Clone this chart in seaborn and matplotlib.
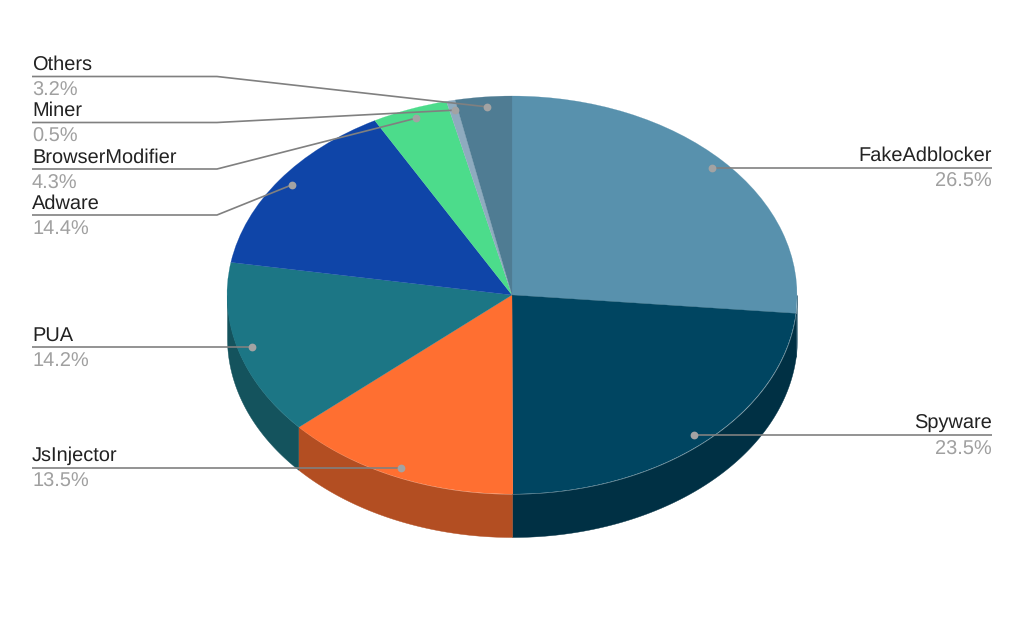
import numpy as np
import matplotlib
matplotlib.use("Agg")
import matplotlib.pyplot as plt
import matplotlib.colors as mc
import seaborn as sns

categories = ["FakeAdblocker", "Spyware", "JsInjector", "PUA", "Adware",
              "BrowserModifier", "Miner", "Others"]
shares = [26.5, 23.5, 13.5, 14.2, 14.4, 4.3, 0.5, 3.2]
colors = ["#5891AD", "#004561", "#FF6F31", "#1C7685", "#0F45A8",
          "#4CDC8B", "#8FABBF", "#4F7C93"]

W, H = 1024, 633
CX, CY, RX, RY, DEPTH = 512.0, 295.0, 285.0, 199.0, 43.0

sns.set_theme(style="white")
plt.rcParams["font.family"] = ["Liberation Sans", "DejaVu Sans"]
plt.rcParams["text.hinting"] = "no_hinting"
plt.rcParams["text.hinting_factor"] = 1
palette = sns.color_palette(colors)

def px(x, y):
    return (x - CX) / RX, (CY - y) / RY

fig = plt.figure(figsize=(W / 100, H / 100), dpi=100, facecolor="white")
ax = fig.add_axes([0, 0, 1, 1])

wedges, _ = ax.pie(shares, colors=palette, startangle=90, counterclock=False, radius=1,
                   wedgeprops=dict(zorder=3))
for w, col in zip(wedges, palette):
    w.set_edgecolor(col)
    w.set_linewidth(0.15)
ax.set_aspect("auto")
ax.set_xlim(px(0, 0)[0], px(W, 0)[0])
ax.set_ylim(px(0, H)[1], px(0, 0)[1])
ax.axis("off")

edges = 90 - np.concatenate([[0], np.cumsum(shares)]) * 3.6
d = DEPTH / RY
for i, col in enumerate(palette):
    a0, a1 = edges[i + 1], edges[i]
    lo, hi = max(a0, -180), min(a1, 0)
    if hi > lo:
        t = np.radians(np.linspace(lo, hi, 120))
        dark = tuple(c * 0.70 for c in mc.to_rgb(col))
        ax.fill_between(np.cos(t), np.sin(t), np.sin(t) - d, facecolor=dark,
                        edgecolor=dark, lw=0.3, zorder=2)

mids = np.radians((edges[:-1] + edges[1:]) / 2)
layout = {
    "FakeAdblocker":   (167.5, None, "R"),
    "Spyware":         (435.0, None, "R"),
    "JsInjector":      (467.5, None, "L"),
    "PUA":             (347.0, None, "L"),
    "Adware":          (215.0, 217, "L"),
    "BrowserModifier": (169.0, 217, "L"),
    "Miner":           (122.5, 217, "L"),
    "Others":          (76.5, 217, "L"),
}
LINE = "#808080"
for name, val, m in zip(categories, shares, mids):
    y, elbow, side = layout[name]
    dx, dy = 0.95 * np.cos(m), 0.95 * np.sin(m)
    x_end = 32 if side == "L" else 992
    xs, ys = [x_end], [y]
    if elbow:
        xs.append(elbow); ys.append(y)
    pts = [px(a, b) for a, b in zip(xs, ys)] + [(dx, dy)]
    if not elbow:
        pts[-1] = (dx, px(0, y)[1])
    ax.plot(*zip(*pts), color=LINE, lw=1.2, zorder=5, solid_capstyle="butt")
    ax.plot([pts[-1][0]], [pts[-1][1]], "o", ms=5.6, color="#A3A3A3", mew=0, zorder=6)
    ha = "left" if side == "L" else "right"
    tx, ty = px(x_end, y - 6.5)
    ax.text(tx, ty, name, ha=ha, va="baseline", fontsize=14.72, color="#222222", zorder=7)
    tx, ty = px(x_end, y + 19.5)
    ax.text(tx, ty, f"{val:.1f}%", ha=ha, va="baseline", fontsize=14.72, color="#A0A0A0", zorder=7)

fig.savefig("out.png", dpi=100, facecolor="white")
